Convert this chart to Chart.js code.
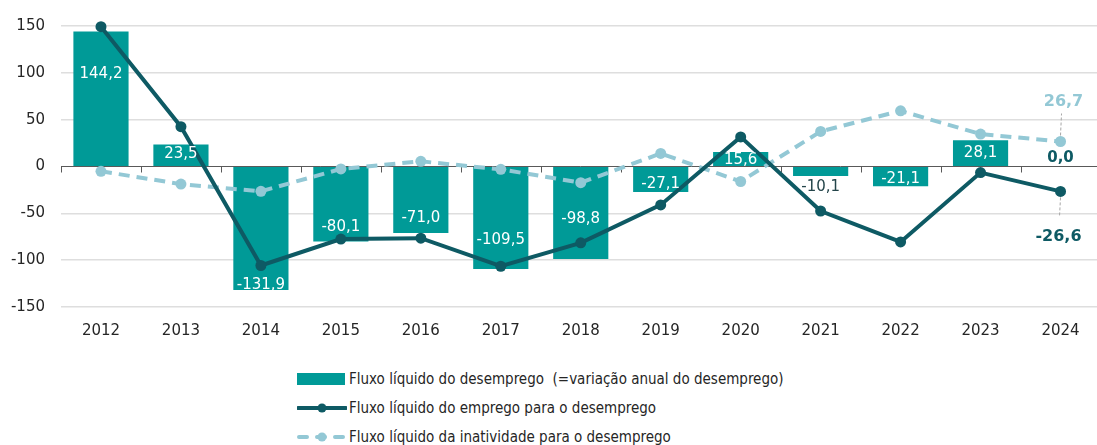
<!DOCTYPE html>
<html lang="pt">
<head>
<meta charset="utf-8">
<script src="https://cdn.jsdelivr.net/npm/chart.js@4.4.1/dist/chart.umd.min.js"></script>
<style>
  html, body { margin: 0; padding: 0; background: #fff; overflow: hidden; }
  body { width: 1097px; height: 445px; position: relative; font-family: "DejaVu Sans", Verdana, sans-serif; }
  #wrap { position: absolute; left: 0; top: 0; width: 1106px; height: 345px; }
  #legend { position: absolute; left: 297px; top: 364px; font-size: 15px; color: #262626;
            font-family: "DejaVu Sans Condensed", "DejaVu Sans", sans-serif; font-stretch: condensed; }
  .legend-item { display: flex; align-items: center; height: 29px; white-space: pre; }
  .legend-item svg { margin-right: 2px; }
</style>
</head>
<body>
<div id="wrap"><canvas id="chartCanvas"></canvas></div>
<div id="legend"></div>
<script>
const years = ["2012", "2013", "2014", "2015", "2016", "2017", "2018", "2019", "2020", "2021", "2022", "2023", "2024"];
const desemprego = [144.2, 23.5, -131.9, -80.1, -71.0, -109.5, -98.8, -27.1, 15.6, -10.1, -21.1, 28.1, 0.0];
const emprego = [149.3, 42.5, -105.7, -77.5, -76.5, -106.5, -81.5, -41.0, 31.6, -47.5, -80.5, -6.5, -26.6];
const inatividade = [-5.1, -18.8, -26.5, -2.6, 5.5, -3.0, -17.3, 13.9, -16.0, 37.4, 59.4, 34.6, 26.7];
const yTicks = [150, 100, 50, 0, -50, -100, -150];

const legendNames = [
  "Fluxo líquido do desemprego  (=variação anual do desemprego)",
  "Fluxo líquido do emprego para o desemprego",
  "Fluxo líquido da inatividade para o desemprego",
];

const TEAL = "#009a97";
const DARK = "#0e5a64";
const LIGHT = "#93c8d5";
const FONT = '"DejaVu Sans", Verdana, sans-serif';

// onde fica o rótulo de cada barra (em unidades do eixo)
const labelAt = [100, 14, -125.5, -64, -54.5, -78, -55.5, -18, 7.5, -20.5, -12, 15, 9.5];

const barLabels = {
  id: "barLabels",
  afterDatasetsDraw(chart) {
    const { ctx, scales } = chart;
    const meta = chart.getDatasetMeta(0);
    ctx.save();
    ctx.textAlign = "center";
    ctx.textBaseline = "middle";
    meta.data.forEach((bar, i) => {
      const v = desemprego[i];
      const txt = v.toFixed(1).replace(".", ",");
      const y = scales.y.getPixelForValue(labelAt[i]);
      if (i === 12) {
        ctx.font = "bold 15px " + FONT;
        ctx.fillStyle = DARK;
      } else if (i === 9) {
        ctx.font = "15px " + FONT;
        ctx.fillStyle = "#24454a";
      } else {
        ctx.font = "15px " + FONT;
        ctx.fillStyle = "#fff";
      }
      ctx.fillText(txt, bar.x, y + 1);
    });

    // rótulos das linhas em 2024
    const last = years.length - 1;
    const pE = chart.getDatasetMeta(1).data[last];
    const pI = chart.getDatasetMeta(2).data[last];
    ctx.strokeStyle = "#a6a6a6";
    ctx.lineWidth = 1;
    ctx.setLineDash([3, 2]);
    ctx.beginPath();
    ctx.moveTo(pI.x, pI.y - 6);
    ctx.lineTo(pI.x + 1, pI.y - 28);
    ctx.moveTo(pE.x, pE.y + 6);
    ctx.lineTo(pE.x - 1, pE.y + 25);
    ctx.stroke();
    ctx.setLineDash([]);
    ctx.font = "bold 16px " + FONT;
    ctx.fillStyle = LIGHT;
    ctx.fillText(inatividade[last].toFixed(1).replace(".", ","), pI.x + 3, pI.y - 40);
    ctx.fillStyle = DARK;
    ctx.fillText(emprego[last].toFixed(1).replace(".", ","), pE.x - 2, pE.y + 45);
    ctx.restore();
  },
};

const zeroAxis = {
  id: "zeroAxis",
  beforeDatasetsDraw(chart) {
    const { ctx, scales, chartArea } = chart;
    const y0 = scales.y.getPixelForValue(0);
    const step = (chartArea.right - chartArea.left) / years.length;
    ctx.save();
    ctx.strokeStyle = "#595959";
    ctx.lineWidth = 1;
    ctx.beginPath();
    for (let i = 0; i <= years.length; i++) {
      const x = Math.round(chartArea.left + i * step) + 0.5;
      ctx.moveTo(x, y0);
      ctx.lineTo(x, y0 + 6);
    }
    ctx.stroke();
    ctx.restore();
  },
};

const ctx = document.getElementById("chartCanvas").getContext("2d");
new Chart(ctx, {
  type: "bar",
  data: {
    labels: years,
    datasets: [
      {
        type: "bar",
        label: legendNames[0],
        data: desemprego,
        backgroundColor: TEAL,
        barPercentage: 0.69,
        categoryPercentage: 1,
        order: 3,
      },
      {
        type: "line",
        label: legendNames[1],
        data: emprego,
        borderColor: DARK,
        backgroundColor: DARK,
        borderWidth: 4,
        pointRadius: 5.5,
        pointBackgroundColor: DARK,
        pointBorderWidth: 0,
        tension: 0,
        clip: false,
        order: 1,
      },
      {
        type: "line",
        label: legendNames[2],
        data: inatividade,
        borderColor: LIGHT,
        backgroundColor: LIGHT,
        borderWidth: 4,
        borderDash: [11, 7],
        pointRadius: 5.5,
        pointBackgroundColor: LIGHT,
        pointBorderWidth: 0,
        tension: 0,
        clip: false,
        order: 2,
      },
    ],
  },
  options: {
    responsive: true,
    maintainAspectRatio: false,
    animation: false,
    layout: { padding: { top: 26, right: 0, left: 0, bottom: 0 } },
    plugins: {
      legend: { display: false },
      tooltip: { enabled: false },
    },
    scales: {
      x: {
        grid: { display: false, drawTicks: false },
        border: { display: false },
        ticks: { color: "#262626", font: { family: FONT, size: 15 }, padding: 15 },
        afterFit: (s) => { s.height = 38; },
      },
      y: {
        min: -150,
        max: 150,
        afterBuildTicks: (s) => { s.ticks = yTicks.map((v) => ({ value: v })); },
        grid: {
          color: (c) => (c.tick && c.tick.value === 0 ? "#595959" : "#dedede"),
          lineWidth: (c) => (c.tick && c.tick.value === 0 ? 1 : 1.5),
          drawTicks: false,
        },
        border: { display: false },
        ticks: { color: "#262626", font: { family: FONT, size: 15 }, padding: 16 },
        afterFit: (s) => { s.width = 61; },
      },
    },
  },
  plugins: [zeroAxis, barLabels],
});

// legenda
const legendEl = document.getElementById("legend");
const symbols = [
  `<svg width="50" height="14"><rect x="0" y="1" width="48" height="12" fill="${TEAL}"/></svg>`,
  `<svg width="50" height="14"><line x1="1" y1="7" x2="49" y2="7" stroke="${DARK}" stroke-width="4" stroke-linecap="round"/><circle cx="25" cy="7" r="4.5" fill="${DARK}"/></svg>`,
  `<svg width="50" height="14"><line x1="2" y1="7" x2="48" y2="7" stroke="${LIGHT}" stroke-width="4" stroke-dasharray="8 10" stroke-linecap="round"/><circle cx="25" cy="7" r="4.5" fill="${LIGHT}"/></svg>`,
];
legendEl.innerHTML = legendNames
  .map((n, i) => `<div class="legend-item">${symbols[i]}<span>${n}</span></div>`)
  .join("");
</script>
</body>
</html>
